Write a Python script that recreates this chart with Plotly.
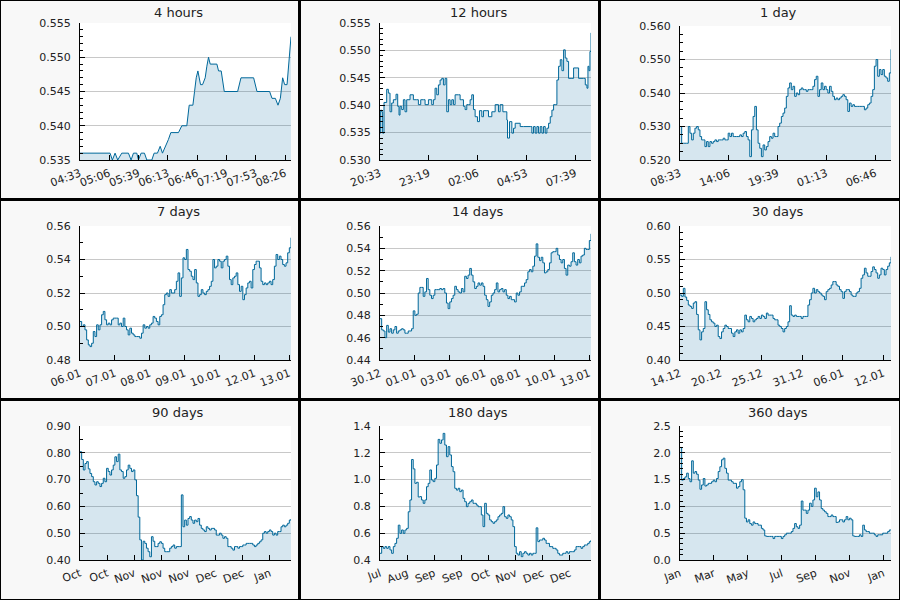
import numpy as np
import plotly.graph_objects as go

# ---------------- data ----------------
# 4 hours: minutes from start, price
h4_min = [0, 34.2, 36.8, 39.9, 42.9, 47.5, 55.1, 58.1, 60.8, 64.6, 66.5, 69.5, 73.3, 76.0, 81.7,
          84.3, 88.1, 91.2, 93.8, 97.6, 100.6, 103.3, 112.0, 115.8, 121.5, 124.2, 128.4, 130.3,
          132.2, 134.1, 137.1, 139.4, 142.4, 144.3, 146.2, 148.1, 155.7, 157.6, 160.6, 164.1,
          179.3, 183.1, 197.5, 201.3, 215.7, 218.4, 222.2, 225.2, 227.9, 230.5, 232.8, 235.5,
          237.7, 238.9, 240]
h4_val = [0.536, 0.536, 0.535, 0.536, 0.535, 0.536, 0.536, 0.535, 0.536, 0.536, 0.535, 0.536,
          0.536, 0.535, 0.535, 0.536, 0.536, 0.537, 0.536, 0.537, 0.538, 0.539, 0.539, 0.540,
          0.540, 0.543, 0.543, 0.545, 0.547, 0.548, 0.546, 0.546, 0.547, 0.5487, 0.550, 0.549,
          0.549, 0.548, 0.548, 0.545, 0.545, 0.547, 0.547, 0.545, 0.545, 0.544, 0.544, 0.543,
          0.544, 0.547, 0.546, 0.546, 0.5497, 0.5516, 0.553]

# 12 hours: minutes from start, price
h12_min = [0, 2.3, 5.7, 9, 13.7, 22.8, 28.5, 34.2, 39.9, 45.6, 54.7, 60.4, 64.9, 68.3, 74, 79.7,
           85.4, 91.1, 102.5, 113.9, 125.3, 131, 139, 148, 153.8, 165.2, 176.5, 182.2, 187.9,
           193.6, 199.3, 205, 210.7, 216.4, 222.1, 227.8, 233.5, 239.2, 244.9, 250.6, 256.3,
           267.7, 273.4, 279, 284.8, 290.4, 296.1, 301.8, 307.5, 313.2, 318.9, 324.6, 332.6,
           339.4, 347.4, 353.1, 362.2, 370.2, 381.6, 393, 404.3, 410, 419.2, 427.1, 432.8, 435.1,
           442, 449.9, 455.6, 461.3, 478.4, 489.8, 512.6, 518.2, 523.9, 529.6, 535.3, 541, 546.7,
           552.4, 558.1, 563.8, 569.5, 575.2, 580.9, 586.6, 592.3, 598, 603.7, 609.4, 615.1,
           620.8, 626.5, 632.1, 637.8, 643.5, 654.9, 660.6, 672, 677.7, 694.8, 700.5, 706.2,
           709.6, 713, 716.4, 720]
h12_val = [0.5349, 0.5391, 0.5388, 0.5349, 0.5405, 0.5429, 0.5422, 0.5388, 0.5404, 0.5410,
           0.5420, 0.5398, 0.5382, 0.5398, 0.5392, 0.5410, 0.5388, 0.5410, 0.5419, 0.5410,
           0.5410, 0.5401, 0.5410, 0.5410, 0.5401, 0.5410, 0.5401, 0.5410, 0.5431, 0.5419,
           0.5437, 0.5446, 0.5449, 0.5437, 0.5449, 0.5388, 0.5410, 0.5401, 0.5410, 0.5401,
           0.5419, 0.5419, 0.5410, 0.5410, 0.5398, 0.5392, 0.5401, 0.5401, 0.5410, 0.5419,
           0.5392, 0.5379, 0.5370, 0.5390, 0.5379, 0.5390, 0.5390, 0.5379, 0.5388, 0.5401,
           0.5388, 0.5401, 0.5388, 0.5388, 0.5373, 0.5340, 0.5370, 0.5349, 0.5358, 0.5367,
           0.5361, 0.5361, 0.5361, 0.5349, 0.5361, 0.5349, 0.5361, 0.5349, 0.5361, 0.5349,
           0.5361, 0.5349, 0.5358, 0.5367, 0.5379, 0.5391, 0.5401, 0.5401, 0.5446, 0.5471,
           0.5483, 0.5463, 0.5501, 0.5486, 0.5480, 0.5449, 0.5449, 0.5468, 0.5468, 0.5449,
           0.5449, 0.5437, 0.5431, 0.5471, 0.5463, 0.5498, 0.5532]

# evenly spaced samples over the window
d1_val = [0.530, 0.525, 0.525, 0.525, 0.525, 0.530, 0.528, 0.526, 0.528, 0.5295, 0.530, 0.529,
          0.527, 0.526, 0.526, 0.524, 0.5255, 0.524, 0.5255, 0.525, 0.5255, 0.526, 0.5255, 0.526,
          0.526, 0.526, 0.5265, 0.526, 0.526, 0.528, 0.527, 0.528, 0.527, 0.527, 0.527, 0.527,
          0.5275, 0.527, 0.528, 0.5285, 0.527, 0.526, 0.521, 0.529, 0.533, 0.536, 0.529, 0.525,
          0.5235, 0.521, 0.5245, 0.523, 0.524, 0.5255, 0.527, 0.5265, 0.528, 0.527, 0.527, 0.530,
          0.531, 0.533, 0.534, 0.5355, 0.539, 0.5415, 0.543, 0.541, 0.542, 0.539, 0.540, 0.5395,
          0.541, 0.5415, 0.541, 0.541, 0.5405, 0.541, 0.541, 0.541, 0.542, 0.544, 0.545, 0.539,
          0.541, 0.543, 0.541, 0.542, 0.541, 0.540, 0.542, 0.5405, 0.539, 0.538, 0.5385, 0.538,
          0.5385, 0.539, 0.5395, 0.539, 0.538, 0.5345, 0.537, 0.536, 0.5365, 0.536, 0.536, 0.536,
          0.536, 0.536, 0.536, 0.535, 0.5355, 0.5365, 0.537, 0.539, 0.541, 0.548, 0.550, 0.545,
          0.547, 0.5455, 0.547, 0.545, 0.5445, 0.5435, 0.546, 0.553]

d7_val = [0.503, 0.500, 0.501, 0.498, 0.492, 0.489, 0.488, 0.490, 0.497, 0.494, 0.501, 0.498,
          0.501, 0.507, 0.509, 0.504, 0.501, 0.502, 0.501, 0.504, 0.505, 0.505, 0.505, 0.501,
          0.502, 0.500, 0.505, 0.500, 0.498, 0.495, 0.499, 0.496, 0.495, 0.494, 0.494, 0.494,
          0.493, 0.496, 0.501, 0.499, 0.500, 0.499, 0.501, 0.502, 0.506, 0.505, 0.503, 0.501,
          0.506, 0.507, 0.513, 0.519, 0.520, 0.518, 0.522, 0.520, 0.520, 0.522, 0.527, 0.532,
          0.518, 0.529, 0.541, 0.540, 0.546, 0.534, 0.533, 0.530, 0.528, 0.534, 0.526, 0.518,
          0.519, 0.522, 0.520, 0.519, 0.521, 0.522, 0.524, 0.527, 0.540, 0.535, 0.536, 0.540,
          0.539, 0.535, 0.539, 0.540, 0.542, 0.536, 0.528, 0.525, 0.529, 0.530, 0.532, 0.525,
          0.521, 0.524, 0.516, 0.519, 0.523, 0.526, 0.527, 0.523, 0.534, 0.537, 0.539, 0.539,
          0.535, 0.527, 0.525, 0.526, 0.525, 0.526, 0.527, 0.525, 0.528, 0.536, 0.543, 0.540,
          0.542, 0.540, 0.537, 0.536, 0.538, 0.544, 0.547, 0.553]

d14_val = [0.477, 0.467, 0.466, 0.460, 0.471, 0.465, 0.468, 0.464, 0.467, 0.470, 0.464, 0.466,
           0.467, 0.468, 0.467, 0.464, 0.464, 0.466, 0.466, 0.468, 0.484, 0.480, 0.481, 0.500,
           0.505, 0.505, 0.497, 0.501, 0.513, 0.503, 0.498, 0.495, 0.498, 0.503, 0.503, 0.503,
           0.504, 0.503, 0.504, 0.500, 0.491, 0.486, 0.492, 0.495, 0.498, 0.506, 0.503, 0.501,
           0.500, 0.504, 0.501, 0.515, 0.513, 0.516, 0.522, 0.516, 0.510, 0.504, 0.506, 0.509,
           0.507, 0.509, 0.506, 0.498, 0.494, 0.488, 0.492, 0.498, 0.500, 0.503, 0.509, 0.501,
           0.503, 0.504, 0.501, 0.503, 0.498, 0.495, 0.497, 0.494, 0.494, 0.492, 0.500, 0.498,
           0.501, 0.506, 0.506, 0.509, 0.512, 0.519, 0.521, 0.519, 0.524, 0.533, 0.544, 0.532,
           0.529, 0.532, 0.527, 0.518, 0.519, 0.521, 0.527, 0.536, 0.537, 0.537, 0.540, 0.534,
           0.530, 0.527, 0.530, 0.522, 0.516, 0.525, 0.524, 0.528, 0.536, 0.528, 0.525, 0.530,
           0.527, 0.533, 0.534, 0.540, 0.539, 0.539, 0.547, 0.553]

d30_val = [0.497, 0.495, 0.507, 0.494, 0.489, 0.482, 0.480, 0.477, 0.485, 0.487, 0.468, 0.445,
           0.430, 0.442, 0.447, 0.487, 0.475, 0.468, 0.460, 0.457, 0.455, 0.450, 0.452, 0.435,
           0.432, 0.442, 0.447, 0.452, 0.450, 0.447, 0.447, 0.440, 0.435, 0.442, 0.445, 0.440,
           0.445, 0.442, 0.447, 0.467, 0.460, 0.457, 0.465, 0.462, 0.457, 0.460, 0.462, 0.465,
           0.462, 0.467, 0.465, 0.462, 0.470, 0.467, 0.467, 0.467, 0.462, 0.460, 0.460, 0.452,
           0.450, 0.447, 0.442, 0.447, 0.450, 0.457, 0.481, 0.467, 0.465, 0.467, 0.465, 0.465,
           0.465, 0.462, 0.465, 0.465, 0.465, 0.482, 0.490, 0.500, 0.507, 0.500, 0.505, 0.502,
           0.500, 0.497, 0.495, 0.490, 0.502, 0.505, 0.507, 0.512, 0.517, 0.517, 0.512, 0.510,
           0.505, 0.502, 0.492, 0.502, 0.505, 0.505, 0.502, 0.497, 0.495, 0.495, 0.500, 0.502,
           0.507, 0.522, 0.527, 0.537, 0.530, 0.525, 0.525, 0.532, 0.539, 0.535, 0.530, 0.522,
           0.527, 0.537, 0.535, 0.527, 0.535, 0.540, 0.545, 0.554]

d90_val = [0.804, 0.775, 0.736, 0.760, 0.767, 0.740, 0.723, 0.711, 0.692, 0.680, 0.692, 0.686,
           0.674, 0.686, 0.705, 0.692, 0.742, 0.730, 0.717, 0.736, 0.754, 0.785, 0.767, 0.795,
           0.736, 0.730, 0.705, 0.711, 0.736, 0.754, 0.742, 0.730, 0.736, 0.699, 0.640, 0.560,
           0.475, 0.400, 0.470, 0.462, 0.444, 0.431, 0.412, 0.487, 0.470, 0.450, 0.450, 0.462,
           0.468, 0.462, 0.444, 0.431, 0.431, 0.431, 0.444, 0.450, 0.456, 0.444, 0.450, 0.450,
           0.450, 0.643, 0.524, 0.549, 0.530, 0.555, 0.562, 0.549, 0.537, 0.549, 0.543, 0.555,
           0.530, 0.518, 0.512, 0.506, 0.524, 0.518, 0.512, 0.518, 0.518, 0.512, 0.493, 0.493,
           0.500, 0.493, 0.481, 0.487, 0.481, 0.450, 0.450, 0.444, 0.437, 0.450, 0.450, 0.444,
           0.450, 0.450, 0.456, 0.456, 0.462, 0.462, 0.462, 0.462, 0.456, 0.450, 0.456, 0.462,
           0.468, 0.475, 0.500, 0.506, 0.500, 0.506, 0.512, 0.506, 0.493, 0.500, 0.493, 0.506,
           0.506, 0.524, 0.530, 0.524, 0.530, 0.537, 0.549, 0.553]

d180_val = [0.450, 0.500, 0.487, 0.500, 0.487, 0.500, 0.475, 0.450, 0.500, 0.524, 0.562, 0.660,
            0.599, 0.624, 0.599, 0.624, 0.636, 0.760, 0.848, 1.150, 1.080, 0.972, 0.980, 0.870,
            0.873, 0.848, 0.823, 0.848, 0.947, 0.972, 1.072, 0.997, 0.985, 1.009, 1.109, 1.300,
            1.271, 1.296, 1.345, 1.258, 1.171, 1.246, 1.184, 1.097, 1.059, 0.935, 0.922, 0.935,
            0.910, 0.922, 0.860, 0.835, 0.798, 0.823, 0.835, 0.848, 0.823, 0.823, 0.810, 0.798,
            0.798, 0.736, 0.649, 0.823, 0.748, 0.736, 0.699, 0.686, 0.674, 0.686, 0.699, 0.723,
            0.736, 0.748, 0.798, 0.723, 0.711, 0.736, 0.723, 0.699, 0.649, 0.500, 0.450, 0.437,
            0.462, 0.425, 0.450, 0.462, 0.450, 0.437, 0.450, 0.437, 0.450, 0.450, 0.640, 0.537,
            0.549, 0.549, 0.562, 0.549, 0.524, 0.524, 0.500, 0.500, 0.487, 0.487, 0.475, 0.450,
            0.437, 0.437, 0.450, 0.450, 0.462, 0.450, 0.462, 0.462, 0.462, 0.475, 0.500, 0.500,
            0.500, 0.487, 0.500, 0.512, 0.512, 0.524, 0.537, 0.549]

d360_val = [2.10, 1.49, 1.52, 1.55, 1.62, 1.52, 1.46, 1.85, 1.62, 1.65, 1.60, 1.49, 1.32, 1.40,
            1.52, 1.38, 1.40, 1.43, 1.43, 1.46, 1.49, 1.46, 1.52, 1.65, 1.74, 1.87, 1.90, 1.71,
            1.62, 1.49, 1.49, 1.46, 1.43, 1.43, 1.34, 1.37, 1.46, 1.50, 1.31, 0.78, 0.71, 0.75,
            0.68, 0.65, 0.71, 0.68, 0.68, 0.65, 0.65, 0.59, 0.56, 0.45, 0.44, 0.44, 0.44, 0.44,
            0.40, 0.44, 0.44, 0.44, 0.44, 0.40, 0.44, 0.47, 0.50, 0.50, 0.50, 0.53, 0.59, 0.68,
            0.62, 0.59, 0.65, 1.10, 0.93, 0.93, 0.87, 0.93, 1.06, 1.00, 1.12, 1.34, 1.18, 1.27,
            1.12, 0.96, 0.93, 0.90, 0.87, 0.81, 0.81, 0.84, 0.81, 0.81, 0.70, 0.71, 0.75, 0.75,
            0.71, 0.75, 0.81, 0.75, 0.78, 0.75, 0.45, 0.44, 0.44, 0.44, 0.47, 0.44, 0.65, 0.56,
            0.53, 0.53, 0.50, 0.50, 0.50, 0.47, 0.44, 0.47, 0.47, 0.47, 0.50, 0.50, 0.50, 0.53,
            0.56, 0.56]

titles = ["4 hours", "12 hours", "1 day", "7 days", "14 days", "30 days",
          "90 days", "180 days", "360 days"]

tick_labels = [
    ["04:33", "05:06", "05:39", "06:13", "06:46", "07:19", "07:53", "08:26"],
    ["20:33", "23:19", "02:06", "04:53", "07:39"],
    ["08:33", "14:06", "19:39", "01:13", "06:46"],
    ["06.01", "07.01", "08.01", "09.01", "10.01", "12.01", "13.01"],
    ["30.12", "01.01", "03.01", "06.01", "08.01", "10.01", "13.01"],
    ["14.12", "20.12", "25.12", "31.12", "06.01", "12.01"],
    ["Oct", "Oct", "Nov", "Nov", "Nov", "Dec", "Dec", "Jan"],
    ["Jul", "Aug", "Sep", "Sep", "Oct", "Nov", "Dec", "Dec"],
    ["Jan", "Mar", "May", "Jul", "Sep", "Nov", "Jan"],
]

# window length and tick spacing in seconds
spans = [14400, 43200, 86400, 604800, 1209600, 2592000, 7776000, 15552000, 31104000]
tick_steps = [2000, 10000, 20000, 100000, 200000, 500000, 1000000, 2000000, 5000000]

y_ranges = [[0.535, 0.555], [0.530, 0.555], [0.520, 0.560], [0.48, 0.56], [0.44, 0.56],
            [0.40, 0.60], [0.40, 0.90], [0.4, 1.4], [0.0, 2.5]]
y_dticks = [0.005, 0.005, 0.01, 0.02, 0.02, 0.05, 0.1, 0.2, 0.5]
y_minor = [0.001, 0.001, 0.0025, 0.01, 0.01, 0.01, 0.05, 0.1, 0.1]
y_formats = [".3f", ".3f", ".3f", ".2f", ".2f", ".2f", ".2f", ".1f", ".1f"]
plot_tops = [23, 23, 26, 26, 26, 26, 26, 26, 26]
line_shapes = ["linear", "hv", "hv", "hv", "hv", "hv", "hv", "hv", "hv"]

# ---------------- figure ----------------
series_x = [
    [m * 60 for m in h4_min],
    [m * 60 for m in h12_min],
]
series_y = [h4_val, h12_val, d1_val, d7_val, d14_val, d30_val, d90_val, d180_val, d360_val]
for k, vals in enumerate(series_y[2:], start=2):
    series_x.append(list(np.linspace(0, spans[k], len(vals))))

LINE = "#00689a"
FILL = "rgba(0,102,153,0.16)"
FONT = "DejaVu Sans"

fig = go.Figure()
layout = dict(
    width=900, height=600, margin=dict(l=0, r=0, t=0, b=0, pad=0, autoexpand=False),
    paper_bgcolor="#f8f8f8", plot_bgcolor="white", showlegend=False,
    font=dict(family=FONT, size=11, color="#222"),
)
annotations = []
shapes = []

for i in range(9):
    r, c = divmod(i, 3)
    sx = "" if i == 0 else str(i + 1)
    fig.add_trace(go.Scatter(
        x=series_x[i], y=series_y[i], mode="lines",
        line=dict(color=LINE, width=1, shape=line_shapes[i]), fill="tozeroy", fillcolor=FILL,
        xaxis="x" + sx, yaxis="y" + sx, hoverinfo="skip"))
    ticks = [k * tick_steps[i] for k in range(len(tick_labels[i]))]
    layout["xaxis" + sx] = dict(
        domain=[(300 * c + 80) / 900, (300 * c + 291) / 900], anchor="y" + sx,
        range=[0, spans[i]], tickmode="array", tickvals=ticks, ticktext=tick_labels[i],
        tickangle=-20, ticks="inside", ticklen=5, tickcolor="black", automargin=False,
        ticklabelstandoff=2,
        showline=True, linecolor="black", linewidth=1, showgrid=False, zeroline=False,
        tickfont=dict(size=11, family=FONT, color="#222"), fixedrange=True)
    layout["yaxis" + sx] = dict(
        domain=[1 - (200 * r + 160) / 600, 1 - (200 * r + plot_tops[i]) / 600], anchor="x" + sx,
        range=y_ranges[i], tick0=y_ranges[i][0], dtick=y_dticks[i], tickformat=y_formats[i],
        ticks="inside", ticklen=5, tickcolor="black", showline=True, linecolor="black",
        linewidth=1, showgrid=True, gridcolor="#c8c8c8", gridwidth=1, zeroline=False,
        automargin=False, ticklabelstandoff=6,
        tickfont=dict(size=11, family=FONT, color="#222"), fixedrange=True,
        minor=dict(tick0=y_ranges[i][0], dtick=y_minor[i], ticks="inside", ticklen=3,
                   tickcolor="black", showgrid=False))
    annotations.append(dict(
        text=titles[i], x=(300 * c + 178) / 900, y=1 - (200 * r + 12) / 600,
        xref="paper", yref="paper", xanchor="center", yanchor="middle", showarrow=False,
        font=dict(size=13, family=FONT, color="#222")))

# panel separators
for px in (299.5, 599.5):
    shapes.append(dict(type="line", xref="paper", yref="paper", x0=px / 900, x1=px / 900,
                       y0=0, y1=1, line=dict(color="black", width=3)))
for py in (199.5, 399.5):
    shapes.append(dict(type="line", xref="paper", yref="paper", x0=0, x1=1,
                       y0=1 - py / 600, y1=1 - py / 600, line=dict(color="black", width=3)))
shapes.append(dict(type="rect", xref="paper", yref="paper", x0=0, x1=1, y0=0, y1=1,
                   line=dict(color="black", width=2)))

layout["annotations"] = annotations
layout["shapes"] = shapes
fig.update_layout(**layout)
fig.write_html("out.html")
